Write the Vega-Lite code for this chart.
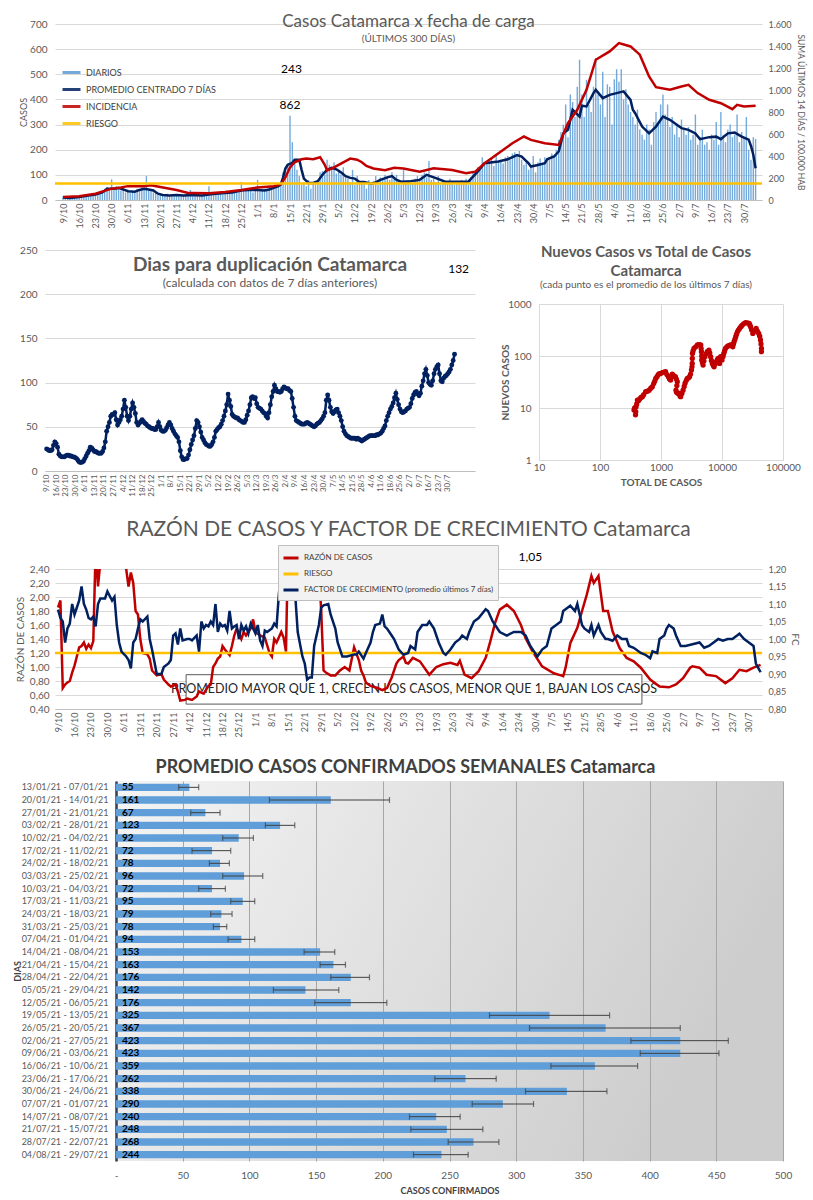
{
"$schema":"https://vega.github.io/schema/vega-lite/v6.json",
"background":"white",
"padding":{"left":12,"top":13,"right":6,"bottom":0},
"config":{
 "font":"Lato",
 "view":{"stroke":null},
 "axis":{"labelColor":"#595959","titleColor":"#595959","labelFont":"Lato","titleFont":"Lato","domainColor":"#bfbfbf","tickColor":"#bfbfbf","gridColor":"#d9d9d9","titleFontWeight":"normal"},
 "title":{"color":"#595959","font":"Lato","subtitleColor":"#595959","subtitleFont":"Lato","frame":"group"},
 "legend":{"labelFont":"Lato","labelColor":"#404040","labelLimit":300}
},
"datasets":{
"barras":[{"dia":0,"v":14},{"dia":1,"v":8},{"dia":2,"v":12},{"dia":3,"v":6},{"dia":4,"v":9},{"dia":5,"v":11},{"dia":6,"v":7},{"dia":7,"v":13},{"dia":8,"v":10},{"dia":9,"v":15},
{"dia":10,"v":18},{"dia":11,"v":12},{"dia":12,"v":20},{"dia":13,"v":16},{"dia":14,"v":25},{"dia":15,"v":22},{"dia":16,"v":30},{"dia":17,"v":38},{"dia":18,"v":45},{"dia":19,"v":52},
{"dia":20,"v":48},{"dia":21,"v":82},{"dia":22,"v":40},{"dia":23,"v":55},{"dia":24,"v":50},{"dia":25,"v":38},{"dia":26,"v":45},{"dia":27,"v":30},{"dia":28,"v":42},{"dia":29,"v":28},
{"dia":30,"v":35},{"dia":31,"v":30},{"dia":32,"v":45},{"dia":33,"v":38},{"dia":34,"v":50},{"dia":35,"v":42},{"dia":36,"v":96},{"dia":37,"v":40},{"dia":38,"v":35},{"dia":39,"v":30},
{"dia":40,"v":28},{"dia":41,"v":20},{"dia":42,"v":18},{"dia":43,"v":22},{"dia":44,"v":15},{"dia":45,"v":25},{"dia":46,"v":18},{"dia":47,"v":20},{"dia":48,"v":24},{"dia":49,"v":16},
{"dia":50,"v":22},{"dia":51,"v":15},{"dia":52,"v":20},{"dia":53,"v":18},{"dia":54,"v":25},{"dia":55,"v":40},{"dia":56,"v":15},{"dia":57,"v":22},{"dia":58,"v":18},{"dia":59,"v":20},
{"dia":60,"v":16},{"dia":61,"v":24},{"dia":62,"v":20},{"dia":63,"v":55},{"dia":64,"v":22},{"dia":65,"v":28},{"dia":66,"v":20},{"dia":67,"v":30},{"dia":68,"v":25},{"dia":69,"v":22},
{"dia":70,"v":30},{"dia":71,"v":35},{"dia":72,"v":25},{"dia":73,"v":32},{"dia":74,"v":38},{"dia":75,"v":28},{"dia":76,"v":40},{"dia":77,"v":72},{"dia":78,"v":35},{"dia":79,"v":42},
{"dia":80,"v":38},{"dia":81,"v":45},{"dia":82,"v":30},{"dia":83,"v":48},{"dia":84,"v":80},{"dia":85,"v":35},{"dia":86,"v":40},{"dia":87,"v":45},{"dia":88,"v":38},{"dia":89,"v":50},
{"dia":90,"v":52},{"dia":91,"v":58},{"dia":92,"v":50},{"dia":93,"v":65},{"dia":94,"v":70},{"dia":95,"v":110},{"dia":96,"v":125},{"dia":97,"v":140},{"dia":98,"v":335},{"dia":99,"v":230},
{"dia":100,"v":150},{"dia":101,"v":120},{"dia":102,"v":95},{"dia":103,"v":60},{"dia":104,"v":70},{"dia":105,"v":55},{"dia":106,"v":80},{"dia":107,"v":45},{"dia":108,"v":72},{"dia":109,"v":65},
{"dia":110,"v":80},{"dia":111,"v":110},{"dia":112,"v":115},{"dia":113,"v":100},{"dia":114,"v":160},{"dia":115,"v":140},{"dia":116,"v":125},{"dia":117,"v":150},{"dia":118,"v":105},{"dia":119,"v":120},
{"dia":120,"v":100},{"dia":121,"v":130},{"dia":122,"v":90},{"dia":123,"v":85},{"dia":124,"v":70},{"dia":125,"v":120},{"dia":126,"v":60},{"dia":127,"v":95},{"dia":128,"v":65},{"dia":129,"v":75},
{"dia":130,"v":70},{"dia":131,"v":45},{"dia":132,"v":80},{"dia":133,"v":60},{"dia":134,"v":75},{"dia":135,"v":95},{"dia":136,"v":60},{"dia":137,"v":90},{"dia":138,"v":85},{"dia":139,"v":100},
{"dia":140,"v":95},{"dia":141,"v":80},{"dia":142,"v":110},{"dia":143,"v":85},{"dia":144,"v":100},{"dia":145,"v":70},{"dia":146,"v":60},{"dia":147,"v":120},{"dia":148,"v":75},{"dia":149,"v":80},
{"dia":150,"v":70},{"dia":151,"v":65},{"dia":152,"v":85},{"dia":153,"v":95},{"dia":154,"v":75},{"dia":155,"v":100},{"dia":156,"v":110},{"dia":157,"v":90},{"dia":158,"v":155},{"dia":159,"v":80},
{"dia":160,"v":85},{"dia":161,"v":70},{"dia":162,"v":95},{"dia":163,"v":60},{"dia":164,"v":80},{"dia":165,"v":65},{"dia":166,"v":75},{"dia":167,"v":85},{"dia":168,"v":70},{"dia":169,"v":60},
{"dia":170,"v":75},{"dia":171,"v":65},{"dia":172,"v":80},{"dia":173,"v":70},{"dia":174,"v":85},{"dia":175,"v":60},{"dia":176,"v":90},{"dia":177,"v":110},{"dia":178,"v":100},{"dia":179,"v":130},
{"dia":180,"v":120},{"dia":181,"v":170},{"dia":182,"v":140},{"dia":183,"v":155},{"dia":184,"v":150},{"dia":185,"v":165},{"dia":186,"v":135},{"dia":187,"v":180},{"dia":188,"v":150},{"dia":189,"v":160},
{"dia":190,"v":145},{"dia":191,"v":170},{"dia":192,"v":175},{"dia":193,"v":160},{"dia":194,"v":185},{"dia":195,"v":190},{"dia":196,"v":175},{"dia":197,"v":195},{"dia":198,"v":160},{"dia":199,"v":140},
{"dia":200,"v":150},{"dia":201,"v":120},{"dia":202,"v":130},{"dia":203,"v":175},{"dia":204,"v":110},{"dia":205,"v":150},{"dia":206,"v":165},{"dia":207,"v":140},{"dia":208,"v":170},{"dia":209,"v":155},
{"dia":210,"v":160},{"dia":211,"v":185},{"dia":212,"v":175},{"dia":213,"v":200},{"dia":214,"v":240},{"dia":215,"v":270},{"dia":216,"v":300},{"dia":217,"v":380},{"dia":218,"v":250},{"dia":219,"v":420},
{"dia":220,"v":390},{"dia":221,"v":330},{"dia":222,"v":450},{"dia":223,"v":558},{"dia":224,"v":420},{"dia":225,"v":330},{"dia":226,"v":478},{"dia":227,"v":380},{"dia":228,"v":350},{"dia":229,"v":450},
{"dia":230,"v":565},{"dia":231,"v":420},{"dia":232,"v":380},{"dia":233,"v":510},{"dia":234,"v":330},{"dia":235,"v":460},{"dia":236,"v":450},{"dia":237,"v":300},{"dia":238,"v":480},{"dia":239,"v":520},
{"dia":240,"v":470},{"dia":241,"v":520},{"dia":242,"v":400},{"dia":243,"v":440},{"dia":244,"v":380},{"dia":245,"v":350},{"dia":246,"v":330},{"dia":247,"v":300},{"dia":248,"v":360},{"dia":249,"v":280},
{"dia":250,"v":260},{"dia":251,"v":240},{"dia":252,"v":300},{"dia":253,"v":280},{"dia":254,"v":220},{"dia":255,"v":310},{"dia":256,"v":350},{"dia":257,"v":300},{"dia":258,"v":380},{"dia":259,"v":420},
{"dia":260,"v":340},{"dia":261,"v":380},{"dia":262,"v":290},{"dia":263,"v":330},{"dia":264,"v":260},{"dia":265,"v":300},{"dia":266,"v":250},{"dia":267,"v":320},{"dia":268,"v":280},{"dia":269,"v":260},
{"dia":270,"v":290},{"dia":271,"v":240},{"dia":272,"v":260},{"dia":273,"v":340},{"dia":274,"v":220},{"dia":275,"v":250},{"dia":276,"v":280},{"dia":277,"v":220},{"dia":278,"v":230},{"dia":279,"v":200},
{"dia":280,"v":260},{"dia":281,"v":240},{"dia":282,"v":310},{"dia":283,"v":220},{"dia":284,"v":350},{"dia":285,"v":260},{"dia":286,"v":230},{"dia":287,"v":280},{"dia":288,"v":300},{"dia":289,"v":250},
{"dia":290,"v":260},{"dia":291,"v":340},{"dia":292,"v":230},{"dia":293,"v":270},{"dia":294,"v":250},{"dia":295,"v":330},{"dia":296,"v":200},{"dia":297,"v":160},{"dia":298,"v":250},{"dia":299,"v":243}],
"prom":[{"dia":0,"v":10},{"dia":3,"v":8},{"dia":7,"v":12},{"dia":11,"v":18},{"dia":14,"v":22},{"dia":17,"v":30},{"dia":19,"v":45},{"dia":22,"v":45},{"dia":24,"v":48},{"dia":26,"v":42},{"dia":28,"v":35},{"dia":31,"v":33},{"dia":33,"v":40},{"dia":35,"v":45},{"dia":37,"v":42},{"dia":39,"v":38},{"dia":41,"v":25},{"dia":43,"v":20},{"dia":46,"v":18},{"dia":49,"v":20},{"dia":52,"v":18},{"dia":56,"v":20},{"dia":60,"v":18},{"dia":63,"v":22},{"dia":66,"v":25},{"dia":70,"v":28},{"dia":73,"v":30},{"dia":77,"v":38},{"dia":80,"v":40},{"dia":84,"v":40},{"dia":87,"v":38},{"dia":89,"v":42},{"dia":91,"v":48},{"dia":93,"v":55},{"dia":94,"v":62},{"dia":95,"v":90},{"dia":96,"v":125},{"dia":97,"v":140},{"dia":99,"v":148},{"dia":100,"v":160},{"dia":102,"v":160},{"dia":103,"v":120},{"dia":104,"v":85},{"dia":106,"v":68},{"dia":108,"v":68},{"dia":110,"v":75},{"dia":112,"v":100},{"dia":114,"v":120},{"dia":116,"v":128},{"dia":118,"v":122},{"dia":120,"v":110},{"dia":122,"v":95},{"dia":124,"v":88},{"dia":126,"v":85},{"dia":128,"v":72},{"dia":130,"v":72},{"dia":133,"v":65},{"dia":135,"v":70},{"dia":137,"v":80},{"dia":140,"v":90},{"dia":142,"v":95},{"dia":144,"v":80},{"dia":146,"v":73},{"dia":150,"v":75},{"dia":154,"v":80},{"dia":157,"v":100},{"dia":161,"v":87},{"dia":165,"v":73},{"dia":168,"v":73},{"dia":175,"v":73},{"dia":179,"v":113},{"dia":182,"v":146},{"dia":188,"v":153},{"dia":192,"v":162},{"dia":196,"v":179},{"dia":198,"v":173},{"dia":201,"v":146},{"dia":202,"v":133},{"dia":205,"v":139},{"dia":208,"v":146},{"dia":209,"v":162},{"dia":212,"v":173},{"dia":214,"v":193},{"dia":216,"v":265},{"dia":218,"v":279},{"dia":220,"v":359},{"dia":223,"v":332},{"dia":224,"v":375},{"dia":226,"v":372},{"dia":229,"v":425},{"dia":230,"v":438},{"dia":233,"v":405},{"dia":236,"v":418},{"dia":239,"v":425},{"dia":242,"v":432},{"dia":245,"v":398},{"dia":246,"v":359},{"dia":247,"v":345},{"dia":250,"v":292},{"dia":253,"v":265},{"dia":256,"v":292},{"dia":259,"v":332},{"dia":262,"v":319},{"dia":265,"v":299},{"dia":267,"v":286},{"dia":270,"v":279},{"dia":273,"v":265},{"dia":275,"v":242},{"dia":279,"v":250},{"dia":282,"v":252},{"dia":284,"v":242},{"dia":287,"v":265},{"dia":290,"v":268},{"dia":293,"v":252},{"dia":296,"v":240},{"dia":297,"v":215},{"dia":298,"v":180},{"dia":299,"v":126}],
"incid":[{"dia":0,"v":27},{"dia":7,"v":34},{"dia":14,"v":57},{"dia":21,"v":103},{"dia":25,"v":114},{"dia":28,"v":126},{"dia":35,"v":126},{"dia":38,"v":133},{"dia":42,"v":119},{"dia":49,"v":91},{"dia":54,"v":64},{"dia":56,"v":64},{"dia":63,"v":62},{"dia":70,"v":73},{"dia":77,"v":91},{"dia":84,"v":114},{"dia":91,"v":126},{"dia":94,"v":142},{"dia":96,"v":206},{"dia":98,"v":297},{"dia":100,"v":343},{"dia":103,"v":370},{"dia":105,"v":377},{"dia":108,"v":370},{"dia":111,"v":389},{"dia":113,"v":320},{"dia":114,"v":270},{"dia":116,"v":286},{"dia":119,"v":320},{"dia":122,"v":354},{"dia":124,"v":377},{"dia":127,"v":366},{"dia":129,"v":343},{"dia":131,"v":309},{"dia":134,"v":286},{"dia":139,"v":270},{"dia":143,"v":293},{"dia":147,"v":286},{"dia":154,"v":258},{"dia":160,"v":289},{"dia":168,"v":273},{"dia":174,"v":243},{"dia":178,"v":258},{"dia":182,"v":334},{"dia":188,"v":425},{"dia":194,"v":516},{"dia":199,"v":577},{"dia":202,"v":546},{"dia":208,"v":516},{"dia":214,"v":501},{"dia":218,"v":698},{"dia":222,"v":820},{"dia":226,"v":1002},{"dia":230,"v":1275},{"dia":236,"v":1351},{"dia":240,"v":1427},{"dia":245,"v":1396},{"dia":249,"v":1321},{"dia":253,"v":1123},{"dia":256,"v":1026},{"dia":262,"v":1002},{"dia":267,"v":1032},{"dia":270,"v":1047},{"dia":274,"v":972},{"dia":279,"v":911},{"dia":284,"v":880},{"dia":289,"v":826},{"dia":291,"v":865},{"dia":294,"v":850},{"dia":299,"v":856}],
"dup":[{"dia":0,"v":25},{"dia":1,"v":24},{"dia":2,"v":23},{"dia":3,"v":23},{"dia":4,"v":24},{"dia":5,"v":29},{"dia":6,"v":33},{"dia":7,"v":31},{"dia":8,"v":27},{"dia":9,"v":19},{"dia":10,"v":17},{"dia":11,"v":16},{"dia":12,"v":16},{"dia":13,"v":16},{"dia":14,"v":17},{"dia":15,"v":18},{"dia":16,"v":18},{"dia":17,"v":17},{"dia":18,"v":17},{"dia":19,"v":16},{"dia":20,"v":16},{"dia":21,"v":15},{"dia":22,"v":14},{"dia":23,"v":12},{"dia":24,"v":10},{"dia":25,"v":9.5},{"dia":26,"v":10},{"dia":27,"v":11},{"dia":28,"v":14},{"dia":29,"v":17},{"dia":30,"v":20},{"dia":31,"v":23},{"dia":32,"v":27},{"dia":33,"v":26},{"dia":34,"v":24},{"dia":35,"v":22},{"dia":36,"v":22},{"dia":37,"v":21},{"dia":38,"v":20},{"dia":39,"v":20},{"dia":40,"v":20},{"dia":41,"v":22},{"dia":42,"v":26},{"dia":43,"v":33},{"dia":44,"v":45},{"dia":45,"v":50},{"dia":46,"v":55},{"dia":47,"v":62},{"dia":48,"v":64},{"dia":49,"v":64},{"dia":50,"v":66},{"dia":51,"v":58},{"dia":52,"v":52},{"dia":53,"v":55},{"dia":54,"v":58},{"dia":55,"v":62},{"dia":56,"v":70},{"dia":57,"v":80},{"dia":58,"v":72},{"dia":59,"v":62},{"dia":60,"v":57},{"dia":61,"v":62},{"dia":62,"v":70},{"dia":63,"v":77},{"dia":64,"v":72},{"dia":65,"v":65},{"dia":66,"v":55},{"dia":67,"v":52},{"dia":68,"v":54},{"dia":69,"v":56},{"dia":70,"v":58},{"dia":71,"v":56},{"dia":72,"v":54},{"dia":73,"v":53},{"dia":74,"v":51},{"dia":75,"v":50},{"dia":76,"v":49},{"dia":77,"v":48},{"dia":78,"v":48},{"dia":79,"v":47},{"dia":80,"v":47},{"dia":81,"v":50},{"dia":82,"v":55},{"dia":83,"v":50},{"dia":84,"v":46},{"dia":85,"v":45},{"dia":86,"v":45},{"dia":87,"v":46},{"dia":88,"v":49},{"dia":89,"v":52},{"dia":90,"v":55},{"dia":91,"v":52},{"dia":92,"v":48},{"dia":93,"v":45},{"dia":94,"v":42},{"dia":95,"v":40},{"dia":96,"v":38},{"dia":97,"v":33},{"dia":98,"v":23},{"dia":99,"v":16},{"dia":100,"v":13},{"dia":101,"v":13},{"dia":102,"v":14},{"dia":103,"v":14},{"dia":104,"v":18},{"dia":105,"v":24},{"dia":106,"v":30},{"dia":107,"v":35},{"dia":108,"v":40},{"dia":109,"v":48},{"dia":110,"v":57},{"dia":111,"v":55},{"dia":112,"v":50},{"dia":113,"v":44},{"dia":114,"v":38},{"dia":115,"v":35},{"dia":116,"v":32},{"dia":117,"v":30},{"dia":118,"v":29},{"dia":119,"v":28},{"dia":120,"v":28},{"dia":121,"v":30},{"dia":122,"v":33},{"dia":123,"v":38},{"dia":124,"v":45},{"dia":125,"v":47},{"dia":126,"v":49},{"dia":127,"v":50},{"dia":128,"v":53},{"dia":129,"v":57},{"dia":130,"v":62},{"dia":131,"v":68},{"dia":132,"v":75},{"dia":133,"v":87},{"dia":134,"v":80},{"dia":135,"v":73},{"dia":136,"v":64},{"dia":137,"v":62},{"dia":138,"v":61},{"dia":139,"v":60},{"dia":140,"v":60},{"dia":141,"v":58},{"dia":142,"v":57},{"dia":143,"v":56},{"dia":144,"v":55},{"dia":145,"v":55},{"dia":146,"v":58},{"dia":147,"v":63},{"dia":148,"v":68},{"dia":149,"v":75},{"dia":150,"v":83},{"dia":151,"v":84},{"dia":152,"v":82},{"dia":153,"v":83},{"dia":154,"v":76},{"dia":155,"v":72},{"dia":156,"v":71},{"dia":157,"v":70},{"dia":158,"v":68},{"dia":159,"v":66},{"dia":160,"v":65},{"dia":161,"v":62},{"dia":162,"v":60},{"dia":163,"v":66},{"dia":164,"v":75},{"dia":165,"v":84},{"dia":166,"v":90},{"dia":167,"v":97},{"dia":168,"v":93},{"dia":169,"v":90},{"dia":170,"v":90},{"dia":171,"v":89},{"dia":172,"v":90},{"dia":173,"v":93},{"dia":174,"v":95},{"dia":175,"v":94},{"dia":176,"v":93},{"dia":177,"v":93},{"dia":178,"v":91},{"dia":179,"v":90},{"dia":180,"v":82},{"dia":181,"v":72},{"dia":182,"v":62},{"dia":183,"v":57},{"dia":184,"v":56},{"dia":185,"v":55},{"dia":186,"v":54},{"dia":187,"v":53},{"dia":188,"v":53},{"dia":189,"v":53},{"dia":190,"v":54},{"dia":191,"v":55},{"dia":192,"v":54},{"dia":193,"v":53},{"dia":194,"v":52},{"dia":195,"v":51},{"dia":196,"v":50},{"dia":197,"v":51},{"dia":198,"v":53},{"dia":199,"v":54},{"dia":200,"v":55},{"dia":201,"v":57},{"dia":202,"v":59},{"dia":203,"v":62},{"dia":204,"v":66},{"dia":205,"v":80},{"dia":206,"v":86},{"dia":207,"v":80},{"dia":208,"v":72},{"dia":209,"v":67},{"dia":210,"v":65},{"dia":211,"v":67},{"dia":212,"v":69},{"dia":213,"v":70},{"dia":214,"v":66},{"dia":215,"v":62},{"dia":216,"v":57},{"dia":217,"v":50},{"dia":218,"v":45},{"dia":219,"v":42},{"dia":220,"v":40},{"dia":221,"v":39},{"dia":222,"v":38},{"dia":223,"v":37},{"dia":224,"v":37},{"dia":225,"v":37},{"dia":226,"v":37},{"dia":227,"v":36},{"dia":228,"v":37},{"dia":229,"v":36},{"dia":230,"v":35},{"dia":231,"v":34},{"dia":232,"v":35},{"dia":233,"v":36},{"dia":234,"v":37},{"dia":235,"v":38},{"dia":236,"v":39},{"dia":237,"v":40},{"dia":238,"v":40},{"dia":239,"v":40},{"dia":240,"v":40},{"dia":241,"v":40},{"dia":242,"v":41},{"dia":243,"v":41},{"dia":244,"v":42},{"dia":245,"v":43},{"dia":246,"v":45},{"dia":247,"v":48},{"dia":248,"v":51},{"dia":249,"v":57},{"dia":250,"v":62},{"dia":251,"v":66},{"dia":252,"v":70},{"dia":253,"v":73},{"dia":254,"v":77},{"dia":255,"v":83},{"dia":256,"v":88},{"dia":257,"v":81},{"dia":258,"v":75},{"dia":259,"v":70},{"dia":260,"v":67},{"dia":261,"v":66},{"dia":262,"v":67},{"dia":263,"v":68},{"dia":264,"v":70},{"dia":265,"v":71},{"dia":266,"v":72},{"dia":267,"v":76},{"dia":268,"v":82},{"dia":269,"v":86},{"dia":270,"v":89},{"dia":271,"v":90},{"dia":272,"v":87},{"dia":273,"v":85},{"dia":274,"v":88},{"dia":275,"v":96},{"dia":276,"v":102},{"dia":277,"v":110},{"dia":278,"v":115},{"dia":279,"v":108},{"dia":280,"v":100},{"dia":281,"v":98},{"dia":282,"v":97},{"dia":283,"v":102},{"dia":284,"v":110},{"dia":285,"v":115},{"dia":286,"v":118},{"dia":287,"v":120},{"dia":288,"v":110},{"dia":289,"v":102},{"dia":290,"v":101},{"dia":291,"v":105},{"dia":292,"v":107},{"dia":293,"v":108},{"dia":294,"v":110},{"dia":295,"v":112},{"dia":296,"v":115},{"dia":297,"v":120},{"dia":298,"v":125},{"dia":299,"v":132}],
"nc":[{"total":361,"nuevos":9.2},{"total":370,"nuevos":10},{"total":382,"nuevos":7.4},{"total":385,"nuevos":8.5},{"total":390,"nuevos":10.6},{"total":400,"nuevos":12},{"total":410,"nuevos":14.2},{"total":430,"nuevos":14},{"total":450,"nuevos":15},{"total":470,"nuevos":16},{"total":495,"nuevos":16.5},{"total":520,"nuevos":18},{"total":560,"nuevos":20.6},{"total":600,"nuevos":21},{"total":640,"nuevos":22},{"total":680,"nuevos":24},{"total":720,"nuevos":25.7},{"total":760,"nuevos":29.7},{"total":790,"nuevos":33},{"total":820,"nuevos":37},{"total":860,"nuevos":40},{"total":900,"nuevos":44},{"total":940,"nuevos":46},{"total":985,"nuevos":46},{"total":1050,"nuevos":48},{"total":1120,"nuevos":49},{"total":1190,"nuevos":50},{"total":1250,"nuevos":44},{"total":1320,"nuevos":40},{"total":1380,"nuevos":36},{"total":1440,"nuevos":34.5},{"total":1490,"nuevos":40},{"total":1530,"nuevos":45},{"total":1580,"nuevos":43},{"total":1640,"nuevos":41},{"total":1720,"nuevos":40},{"total":1790,"nuevos":36},{"total":1850,"nuevos":32},{"total":1820,"nuevos":27},{"total":1760,"nuevos":22},{"total":1800,"nuevos":20},{"total":1900,"nuevos":19},{"total":2000,"nuevos":19},{"total":2050,"nuevos":17},{"total":2100,"nuevos":16.5},{"total":2200,"nuevos":19},{"total":2300,"nuevos":22},{"total":2400,"nuevos":26},{"total":2480,"nuevos":30},{"total":2600,"nuevos":34},{"total":2700,"nuevos":37},{"total":2820,"nuevos":38},{"total":2940,"nuevos":40},{"total":3050,"nuevos":45},{"total":3160,"nuevos":54},{"total":3220,"nuevos":62},{"total":3250,"nuevos":72},{"total":3260,"nuevos":90},{"total":3280,"nuevos":112},{"total":3350,"nuevos":125},{"total":3470,"nuevos":140},{"total":3700,"nuevos":150},{"total":3950,"nuevos":163},{"total":4200,"nuevos":165},{"total":4480,"nuevos":163},{"total":4550,"nuevos":140},{"total":4600,"nuevos":121},{"total":4650,"nuevos":100},{"total":4650,"nuevos":84},{"total":4780,"nuevos":75},{"total":4900,"nuevos":67},{"total":5050,"nuevos":80},{"total":5240,"nuevos":97},{"total":5500,"nuevos":110},{"total":5730,"nuevos":121},{"total":6100,"nuevos":130},{"total":6300,"nuevos":115},{"total":6510,"nuevos":97},{"total":6700,"nuevos":82},{"total":6950,"nuevos":72},{"total":7200,"nuevos":66},{"total":7420,"nuevos":62},{"total":7700,"nuevos":70},{"total":8060,"nuevos":78},{"total":8400,"nuevos":85},{"total":8670,"nuevos":90},{"total":8900,"nuevos":80},{"total":9120,"nuevos":72},{"total":9300,"nuevos":85},{"total":9480,"nuevos":97},{"total":9700,"nuevos":90},{"total":10000,"nuevos":84},{"total":10400,"nuevos":98},{"total":10700,"nuevos":112},{"total":11000,"nuevos":125},{"total":11400,"nuevos":140},{"total":12000,"nuevos":150},{"total":12600,"nuevos":156},{"total":13200,"nuevos":160},{"total":13800,"nuevos":163},{"total":14400,"nuevos":158},{"total":15000,"nuevos":150},{"total":15400,"nuevos":170},{"total":15800,"nuevos":188},{"total":16300,"nuevos":210},{"total":16800,"nuevos":235},{"total":17300,"nuevos":262},{"total":17900,"nuevos":292},{"total":18600,"nuevos":315},{"total":19400,"nuevos":338},{"total":20400,"nuevos":365},{"total":21400,"nuevos":392},{"total":22800,"nuevos":420},{"total":24300,"nuevos":437},{"total":26000,"nuevos":432},{"total":27900,"nuevos":425},{"total":28600,"nuevos":395},{"total":29400,"nuevos":366},{"total":30500,"nuevos":320},{"total":32000,"nuevos":272},{"total":34000,"nuevos":300},{"total":36300,"nuevos":338},{"total":38000,"nuevos":300},{"total":40000,"nuevos":272},{"total":41500,"nuevos":240},{"total":42800,"nuevos":203},{"total":43600,"nuevos":170},{"total":44400,"nuevos":140},{"total":44400,"nuevos":121}],
"rz":[{"dia":0,"v":1.85},{"dia":1,"v":1.95},{"dia":2,"v":0.7},{"dia":3,"v":0.75},{"dia":4,"v":0.78},{"dia":5,"v":0.8},{"dia":6,"v":0.92},{"dia":7,"v":1.02},{"dia":8,"v":1.15},{"dia":9,"v":1.28},{"dia":10,"v":1.3},{"dia":11,"v":1.35},{"dia":12,"v":1.26},{"dia":13,"v":1.32},{"dia":14,"v":1.27},{"dia":15,"v":1.37},{"dia":16,"v":2.7},{"dia":17,"v":2.15},{"dia":18,"v":2.5},{"dia":20,"v":3.0},{"dia":22,"v":3.3},{"dia":24,"v":3.4},{"dia":26,"v":3.2},{"dia":28,"v":2.8},{"dia":29,"v":2.4},{"dia":30,"v":2.15},{"dia":31,"v":2.35},{"dia":32,"v":2.2},{"dia":33,"v":1.8},{"dia":34,"v":1.75},{"dia":35,"v":1.4},{"dia":36,"v":1.2},{"dia":38,"v":1.18},{"dia":39,"v":1.12},{"dia":40,"v":0.95},{"dia":42,"v":0.88},{"dia":44,"v":0.9},{"dia":45,"v":0.82},{"dia":47,"v":0.75},{"dia":48,"v":0.72},{"dia":50,"v":0.75},{"dia":51,"v":0.65},{"dia":52,"v":0.52},{"dia":54,"v":0.53},{"dia":55,"v":0.55},{"dia":57,"v":0.53},{"dia":59,"v":0.58},{"dia":60,"v":0.65},{"dia":62,"v":0.62},{"dia":64,"v":0.73},{"dia":65,"v":0.75},{"dia":66,"v":1.0},{"dia":67,"v":1.05},{"dia":68,"v":1.12},{"dia":69,"v":1.15},{"dia":70,"v":1.3},{"dia":71,"v":1.25},{"dia":73,"v":1.17},{"dia":74,"v":1.3},{"dia":75,"v":1.45},{"dia":76,"v":1.55},{"dia":78,"v":1.4},{"dia":79,"v":1.5},{"dia":80,"v":1.45},{"dia":82,"v":1.55},{"dia":83,"v":1.68},{"dia":84,"v":1.5},{"dia":86,"v":1.45},{"dia":88,"v":1.42},{"dia":90,"v":1.2},{"dia":91,"v":1.15},{"dia":92,"v":1.4},{"dia":93,"v":1.35},{"dia":95,"v":1.5},{"dia":96,"v":1.42},{"dia":97,"v":1.22},{"dia":98,"v":2.9},{"dia":100,"v":4.0},{"dia":103,"v":4.5},{"dia":106,"v":4.0},{"dia":109,"v":3.2},{"dia":111,"v":2.4},{"dia":112,"v":1.8},{"dia":113,"v":0.95},{"dia":114,"v":0.92},{"dia":116,"v":0.88},{"dia":118,"v":0.88},{"dia":120,"v":0.95},{"dia":122,"v":1.0},{"dia":124,"v":0.95},{"dia":126,"v":1.28},{"dia":128,"v":1.1},{"dia":129,"v":0.95},{"dia":130,"v":0.88},{"dia":131,"v":0.78},{"dia":133,"v":0.73},{"dia":136,"v":0.7},{"dia":138,"v":0.67},{"dia":140,"v":0.7},{"dia":142,"v":0.85},{"dia":144,"v":1.05},{"dia":145,"v":1.1},{"dia":147,"v":1.15},{"dia":148,"v":1.06},{"dia":149,"v":1.05},{"dia":151,"v":1.13},{"dia":154,"v":1.08},{"dia":158,"v":0.89},{"dia":161,"v":1.0},{"dia":164,"v":1.04},{"dia":167,"v":1.06},{"dia":170,"v":1.03},{"dia":171,"v":1.09},{"dia":173,"v":0.89},{"dia":176,"v":0.84},{"dia":179,"v":0.94},{"dia":182,"v":1.13},{"dia":184,"v":1.37},{"dia":186,"v":1.63},{"dia":188,"v":1.82},{"dia":191,"v":1.89},{"dia":194,"v":1.8},{"dia":197,"v":1.6},{"dia":199,"v":1.41},{"dia":202,"v":1.22},{"dia":206,"v":1.01},{"dia":211,"v":0.91},{"dia":214,"v":0.88},{"dia":215,"v":0.87},{"dia":216,"v":0.99},{"dia":218,"v":1.34},{"dia":221,"v":1.56},{"dia":223,"v":1.8},{"dia":225,"v":2.03},{"dia":227,"v":2.3},{"dia":228,"v":2.2},{"dia":230,"v":2.3},{"dia":232,"v":1.8},{"dia":234,"v":1.8},{"dia":236,"v":1.51},{"dia":239,"v":1.27},{"dia":242,"v":1.13},{"dia":245,"v":1.08},{"dia":248,"v":0.99},{"dia":252,"v":0.82},{"dia":256,"v":0.72},{"dia":260,"v":0.71},{"dia":263,"v":0.75},{"dia":266,"v":0.84},{"dia":269,"v":0.99},{"dia":270,"v":1.01},{"dia":273,"v":0.99},{"dia":276,"v":0.89},{"dia":280,"v":0.87},{"dia":284,"v":0.77},{"dia":287,"v":0.84},{"dia":290,"v":0.96},{"dia":293,"v":0.94},{"dia":296,"v":0.99},{"dia":299,"v":1.03}],
"fc":[{"dia":0,"v":1.084},{"dia":1,"v":1.06},{"dia":2,"v":1.05},{"dia":3,"v":0.99},{"dia":4,"v":1.03},{"dia":5,"v":1.044},{"dia":6,"v":1.1},{"dia":7,"v":1.07},{"dia":8,"v":1.09},{"dia":9,"v":1.11},{"dia":10,"v":1.15},{"dia":11,"v":1.1},{"dia":12,"v":1.084},{"dia":13,"v":1.06},{"dia":14,"v":1.056},{"dia":15,"v":1.064},{"dia":16,"v":1.036},{"dia":17,"v":1.1},{"dia":18,"v":1.116},{"dia":20,"v":1.116},{"dia":21,"v":1.136},{"dia":23,"v":1.11},{"dia":24,"v":1.12},{"dia":25,"v":1.04},{"dia":26,"v":0.99},{"dia":27,"v":0.964},{"dia":29,"v":0.95},{"dia":30,"v":0.94},{"dia":31,"v":0.916},{"dia":32,"v":0.99},{"dia":33,"v":1.0},{"dia":34,"v":1.03},{"dia":35,"v":1.056},{"dia":36,"v":1.05},{"dia":38,"v":1.064},{"dia":39,"v":1.0},{"dia":40,"v":0.97},{"dia":42,"v":0.9},{"dia":43,"v":0.9},{"dia":44,"v":0.9},{"dia":45,"v":0.92},{"dia":47,"v":0.93},{"dia":48,"v":0.94},{"dia":49,"v":1.01},{"dia":50,"v":1.016},{"dia":51,"v":0.984},{"dia":52,"v":1.03},{"dia":53,"v":0.996},{"dia":55,"v":1.0},{"dia":56,"v":1.0},{"dia":57,"v":0.996},{"dia":59,"v":1.01},{"dia":60,"v":0.964},{"dia":61,"v":1.05},{"dia":62,"v":1.03},{"dia":63,"v":1.04},{"dia":64,"v":1.036},{"dia":65,"v":1.05},{"dia":66,"v":1.04},{"dia":67,"v":1.1},{"dia":68,"v":1.02},{"dia":69,"v":1.044},{"dia":70,"v":1.036},{"dia":71,"v":1.04},{"dia":72,"v":1.024},{"dia":73,"v":1.08},{"dia":74,"v":1.03},{"dia":75,"v":1.036},{"dia":76,"v":1.04},{"dia":77,"v":1.0},{"dia":78,"v":1.04},{"dia":79,"v":1.024},{"dia":80,"v":1.036},{"dia":81,"v":1.016},{"dia":82,"v":1.044},{"dia":83,"v":1.03},{"dia":84,"v":1.016},{"dia":85,"v":1.04},{"dia":86,"v":0.996},{"dia":87,"v":0.98},{"dia":88,"v":1.024},{"dia":89,"v":1.02},{"dia":91,"v":1.03},{"dia":92,"v":1.044},{"dia":93,"v":1.036},{"dia":94,"v":1.13},{"dia":95,"v":1.2},{"dia":97,"v":1.25},{"dia":99,"v":1.24},{"dia":101,"v":1.12},{"dia":102,"v":1.02},{"dia":104,"v":0.95},{"dia":105,"v":0.93},{"dia":106,"v":0.884},{"dia":107,"v":0.89},{"dia":108,"v":0.89},{"dia":109,"v":0.98},{"dia":111,"v":1.04},{"dia":112,"v":1.09},{"dia":113,"v":1.096},{"dia":115,"v":1.1},{"dia":116,"v":1.07},{"dia":118,"v":1.03},{"dia":119,"v":0.99},{"dia":121,"v":0.95},{"dia":123,"v":0.95},{"dia":126,"v":0.956},{"dia":127,"v":0.956},{"dia":128,"v":0.964},{"dia":130,"v":0.944},{"dia":131,"v":0.96},{"dia":133,"v":0.99},{"dia":134,"v":1.02},{"dia":135,"v":1.04},{"dia":137,"v":1.044},{"dia":138,"v":1.07},{"dia":139,"v":1.036},{"dia":140,"v":1.03},{"dia":142,"v":1.01},{"dia":143,"v":1.0},{"dia":145,"v":0.97},{"dia":147,"v":0.955},{"dia":149,"v":0.96},{"dia":150,"v":0.98},{"dia":152,"v":0.97},{"dia":153,"v":1.02},{"dia":155,"v":1.04},{"dia":157,"v":1.04},{"dia":158,"v":1.05},{"dia":160,"v":1.03},{"dia":162,"v":0.99},{"dia":164,"v":0.96},{"dia":165,"v":0.955},{"dia":167,"v":0.97},{"dia":169,"v":0.99},{"dia":171,"v":1.0},{"dia":172,"v":1.01},{"dia":174,"v":1.0},{"dia":175,"v":1.02},{"dia":177,"v":1.05},{"dia":179,"v":1.06},{"dia":182,"v":1.085},{"dia":183,"v":1.08},{"dia":185,"v":1.05},{"dia":188,"v":1.02},{"dia":191,"v":1.01},{"dia":194,"v":1.02},{"dia":197,"v":1.02},{"dia":199,"v":1.01},{"dia":201,"v":0.98},{"dia":203,"v":0.96},{"dia":204,"v":0.95},{"dia":206,"v":0.97},{"dia":208,"v":0.98},{"dia":210,"v":1.03},{"dia":212,"v":1.04},{"dia":214,"v":1.05},{"dia":215,"v":1.08},{"dia":217,"v":1.09},{"dia":218,"v":1.095},{"dia":220,"v":1.08},{"dia":221,"v":1.1},{"dia":223,"v":1.04},{"dia":224,"v":1.03},{"dia":226,"v":1.02},{"dia":227,"v":1.04},{"dia":228,"v":1.01},{"dia":230,"v":1.04},{"dia":231,"v":1.02},{"dia":233,"v":1.0},{"dia":234,"v":1.0},{"dia":236,"v":0.995},{"dia":238,"v":1.01},{"dia":240,"v":1.0},{"dia":242,"v":1.0},{"dia":243,"v":0.98},{"dia":245,"v":0.975},{"dia":248,"v":0.96},{"dia":250,"v":0.955},{"dia":252,"v":0.945},{"dia":253,"v":0.965},{"dia":255,"v":0.96},{"dia":256,"v":1.0},{"dia":258,"v":1.01},{"dia":259,"v":1.03},{"dia":260,"v":1.04},{"dia":262,"v":1.03},{"dia":263,"v":1.01},{"dia":265,"v":0.98},{"dia":267,"v":0.98},{"dia":270,"v":0.985},{"dia":273,"v":0.99},{"dia":275,"v":0.975},{"dia":277,"v":0.98},{"dia":279,"v":0.99},{"dia":281,"v":1.0},{"dia":283,"v":0.995},{"dia":285,"v":1.0},{"dia":287,"v":1.0},{"dia":289,"v":1.01},{"dia":290,"v":1.015},{"dia":292,"v":1.0},{"dia":294,"v":0.99},{"dia":296,"v":0.98},{"dia":297,"v":0.93},{"dia":299,"v":0.905}],
"sem":[{"sem":"13/01/21 - 07/01/21","v":55,"lo":47,"hi":62},{"sem":"20/01/21 - 14/01/21","v":161,"lo":115,"hi":205},{"sem":"27/01/21 - 21/01/21","v":67,"lo":56,"hi":78},{"sem":"03/02/21 - 28/01/21","v":123,"lo":112,"hi":134},{"sem":"10/02/21 - 04/02/21","v":92,"lo":80,"hi":103},{"sem":"17/02/21 - 11/02/21","v":72,"lo":57,"hi":86},{"sem":"24/02/21 - 18/02/21","v":78,"lo":70,"hi":85},{"sem":"03/03/21 - 25/02/21","v":96,"lo":80,"hi":110},{"sem":"10/03/21 - 04/03/21","v":72,"lo":62,"hi":82},{"sem":"17/03/21 - 11/03/21","v":95,"lo":86,"hi":104},{"sem":"24/03/21 - 18/03/21","v":79,"lo":71,"hi":87},{"sem":"31/03/21 - 25/03/21","v":78,"lo":73,"hi":83},{"sem":"07/04/21 - 01/04/21","v":94,"lo":84,"hi":104},{"sem":"14/04/21 - 08/04/21","v":153,"lo":141,"hi":164},{"sem":"21/04/21 - 15/04/21","v":163,"lo":153,"hi":172},{"sem":"28/04/21 - 22/04/21","v":176,"lo":161,"hi":190},{"sem":"05/05/21 - 29/04/21","v":142,"lo":118,"hi":167},{"sem":"12/05/21 - 06/05/21","v":176,"lo":149,"hi":203},{"sem":"19/05/21 - 13/05/21","v":325,"lo":280,"hi":370},{"sem":"26/05/21 - 20/05/21","v":367,"lo":310,"hi":423},{"sem":"02/06/21 - 27/05/21","v":423,"lo":386,"hi":459},{"sem":"09/06/21 - 03/06/21","v":423,"lo":393,"hi":452},{"sem":"16/06/21 - 10/06/21","v":359,"lo":326,"hi":391},{"sem":"23/06/21 - 17/06/21","v":262,"lo":239,"hi":285},{"sem":"30/06/21 - 24/06/21","v":338,"lo":307,"hi":368},{"sem":"07/07/21 - 01/07/21","v":290,"lo":267,"hi":313},{"sem":"14/07/21 - 08/07/21","v":240,"lo":220,"hi":258},{"sem":"21/07/21 - 15/07/21","v":248,"lo":221,"hi":275},{"sem":"28/07/21 - 22/07/21","v":268,"lo":249,"hi":287},{"sem":"04/08/21 - 29/07/21","v":244,"lo":223,"hi":264}],
"vacio":[]
},
"spacing":16,
"resolve":{"scale":{"color":"independent"},"legend":{"color":"independent"}},
"vconcat":[
 {"spacing":0,"hconcat":[
  {"data":{"name":"vacio"},"mark":"point","encoding":{},"width":1,"height":1},
  {"width":707,"height":176,
  "title":{"text":"Casos  Catamarca  x fecha de carga","subtitle":"(ÚLTIMOS 300 DÍAS)","fontSize":17,"fontWeight":"normal","subtitleFontSize":10,"subtitlePadding":3,"offset":-26,"anchor":"middle"},
  "layer":[
   {"layer":[
     {"data":{"name":"barras"},"mark":{"type":"bar","size":1.4,"opacity":0.85},
      "encoding":{
       "x":{"field":"dia","type":"quantitative","scale":{"domain":[-1.3,299.6],"nice":false,"zero":false},"axis":{"values":[0,7,14,21,28,35,42,49,56,63,70,77,84,91,98,105,112,119,126,133,140,147,154,161,168,175,182,189,196,203,210,217,224,231,238,245,252,259,266,273,280,287,294],"tickCount":100,"labelExpr":"timeFormat(datetime(2020, 9, 9 + datum.value), '%-d/%-m')","labelAngle":-90,"labelFontSize":9,"labelPadding":3,"labelOverlap":false,"labelFlush":false,"grid":false,"ticks":false,"title":null}},
       "y":{"field":"v","type":"quantitative","scale":{"domain":[0,700],"nice":false},"axis":{"values":[0,100,200,300,400,500,600,700],"tickCount":20,"labelOverlap":false,"grid":true,"domain":false,"ticks":false,"labelFontSize":10,"labelPadding":8,"title":"CASOS","titleFontSize":9,"minExtent":42,"maxExtent":42,"titleX":-27}},
       "color":{"datum":"DIARIOS","scale":{"domain":["DIARIOS","PROMEDIO CENTRADO 7 DÍAS","INCIDENCIA","RIESGO"],"range":["#5B9BD5","#002060","#C00000","#FFC000"]},"legend":{"orient":"none","legendX":49,"legendY":38,"title":null,"symbolType":"stroke","symbolStrokeWidth":3,"symbolSize":324,"labelFontSize":9,"rowPadding":0,"padding":0}}
      }},
     {"data":{"name":"prom"},"mark":{"type":"line","strokeWidth":2.5},
      "encoding":{"x":{"field":"dia","type":"quantitative"},"y":{"field":"v","type":"quantitative","axis":{"title":"CASOS"}},"color":{"datum":"PROMEDIO CENTRADO 7 DÍAS"}}},
     {"data":{"values":[{"t":"243"}]},"mark":{"type":"text","fontSize":12,"color":"#000000"},"encoding":{"x":{"datum":98.6},"y":{"datum":520},"text":{"field":"t"}}},
     {"data":{"values":[{"t":"862"}]},"mark":{"type":"text","fontSize":12,"color":"#000000"},"encoding":{"x":{"datum":98},"y":{"datum":378},"text":{"field":"t"}}}
   ]},
   {"layer":[
     {"data":{"name":"incid"},"mark":{"type":"line","strokeWidth":2.5},
      "encoding":{"x":{"field":"dia","type":"quantitative"},
       "y":{"field":"v","type":"quantitative","scale":{"domain":[0,1600],"nice":false},"axis":{"orient":"right","values":[0,200,400,600,800,1000,1200,1400,1600],"tickCount":20,"labelOverlap":false,"labelExpr":"replace(format(datum.value, ','), ',', '.')","grid":false,"domain":false,"ticks":false,"labelFontSize":9,"labelPadding":6,"title":"SUMA  ÚLTIMOS 14 DÍAS / 100.000 HAB","titleFontSize":8.5,"titlePadding":4}},
       "color":{"datum":"INCIDENCIA"}}},
     {"data":{"values":[{"r":150}]},"mark":{"type":"rule","strokeWidth":2.5},
      "encoding":{"y":{"field":"r","type":"quantitative","axis":{"title":"SUMA  ÚLTIMOS 14 DÍAS / 100.000 HAB"}},"color":{"datum":"RIESGO"}}}
   ]}
  ],
  "resolve":{"scale":{"y":"independent"}}
  }
 ]},
 {"spacing":0,"hconcat":[
  {"data":{"name":"vacio"},"mark":"point","encoding":{},"width":1,"height":1},
  {"spacing":25,"hconcat":[
   {"spacing":0,"vconcat":[
    {"data":{"name":"vacio"},"mark":"point","encoding":{},"width":1,"height":1},
    {"width":430,"height":221,
     "title":{"text":"Dias para duplicación Catamarca","subtitle":"(calculada con datos de 7 días anteriores)","fontSize":19,"fontWeight":"bold","subtitleFontSize":12,"subtitlePadding":3,"offset":-44,"anchor":"middle","dx":10},
     "layer":[
      {"data":{"name":"dup"},"mark":{"type":"line","strokeWidth":2.5,"color":"#002060"},
       "encoding":{
        "x":{"field":"dia","type":"quantitative","scale":{"domain":[-1.2,314],"nice":false,"zero":false},"axis":{"values":[0,7,14,21,28,35,42,49,56,63,70,77,84,91,98,105,112,119,126,133,140,147,154,161,168,175,182,189,196,203,210,217,224,231,238,245,252,259,266,273,280,287,294],"tickCount":100,"labelExpr":"timeFormat(datetime(2020, 9, 9 + datum.value), '%-d/%-m')","labelAngle":-90,"labelFontSize":8,"labelPadding":3,"labelOverlap":false,"labelFlush":false,"grid":false,"ticks":false,"title":" ","titleFontSize":6,"titlePadding":0}},
        "y":{"field":"v","type":"quantitative","scale":{"domain":[0,250],"nice":false},"axis":{"values":[0,50,100,150,200,250],"tickCount":20,"labelOverlap":false,"grid":true,"domain":false,"ticks":false,"labelFontSize":10,"labelPadding":8,"title":null,"minExtent":32,"maxExtent":32}}
       }},
      {"data":{"name":"dup"},"mark":{"type":"circle","size":24,"color":"#002060","opacity":1},
       "encoding":{"x":{"field":"dia","type":"quantitative"},"y":{"field":"v","type":"quantitative"}}},
      {"data":{"values":[{"t":"132"}]},"mark":{"type":"text","fontSize":12,"color":"#000000"},"encoding":{"x":{"datum":302},"y":{"datum":228},"text":{"field":"t"}}}
     ]}
   ]},
   {"spacing":0,"vconcat":[
    {"data":{"name":"vacio"},"mark":"point","encoding":{},"width":1,"height":1},
    {"width":244,"height":156,
     "title":{"text":["Nuevos Casos vs Total de Casos","Catamarca"],"subtitle":"(cada punto es el promedio de los últimos 7 días)","fontSize":15,"fontWeight":"bold","lineHeight":19,"subtitleFontSize":10,"subtitlePadding":1,"offset":9,"anchor":"middle","dx":-15},
     "data":{"name":"nc"},
     "mark":{"type":"circle","size":28,"color":"#C00000","opacity":1},
     "encoding":{
      "x":{"field":"total","type":"quantitative","scale":{"type":"log","domain":[10,100000],"nice":false},"axis":{"values":[10,100,1000,10000,100000],"tickCount":20,"labelOverlap":false,"labelExpr":"format(datum.value, 'd')","grid":true,"domain":false,"ticks":false,"title":"TOTAL DE CASOS","titleFontWeight":"bold","titleFontSize":10,"labelFontSize":10,"titlePadding":5,"labelFlush":false}},
      "y":{"field":"nuevos","type":"quantitative","scale":{"type":"log","domain":[1,1000],"nice":false},"axis":{"values":[1,10,100,1000],"tickCount":20,"labelOverlap":false,"labelExpr":"format(datum.value, 'd')","grid":true,"domain":false,"ticks":false,"title":"NUEVOS CASOS","titleFontWeight":"bold","titleFontSize":10,"labelFontSize":10,"minExtent":22,"maxExtent":22,"titlePadding":7,"labelPadding":8}}
     }}
   ]}
  ]}
 ]},
 {"spacing":0,"hconcat":[
  {"data":{"name":"vacio"},"mark":"point","encoding":{},"width":1,"height":1},
  {"width":707,"height":140,
  "title":{"text":"RAZÓN DE CASOS Y FACTOR DE CRECIMIENTO Catamarca","fontSize":21,"fontWeight":"normal","offset":11,"anchor":"middle"},
  "layer":[
   {"layer":[
     {"data":{"values":[{"t":"PROMEDIO MAYOR QUE 1, CRECEN LOS CASOS, MENOR QUE 1, BAJAN LOS CASOS"}]},"mark":{"type":"rect","fill":"#ffffff","stroke":"#595959","strokeWidth":1},
      "encoding":{"x":{"datum":54.5},"x2":{"datum":248.5},"y":{"datum":0.47},"y2":{"datum":0.89}}},
     {"data":{"values":[{"t":"PROMEDIO MAYOR QUE 1, CRECEN LOS CASOS, MENOR QUE 1, BAJAN LOS CASOS"}]},"mark":{"type":"text","fontSize":12.5,"color":"#262626"},
      "encoding":{"x":{"datum":151.5},"y":{"datum":0.68},"text":{"field":"t"}}},
     {"data":{"name":"rz"},"mark":{"type":"line","strokeWidth":2.5,"clip":true},
      "encoding":{
       "x":{"field":"dia","type":"quantitative","scale":{"domain":[-1.3,299.6],"nice":false,"zero":false},"axis":{"values":[0,7,14,21,28,35,42,49,56,63,70,77,84,91,98,105,112,119,126,133,140,147,154,161,168,175,182,189,196,203,210,217,224,231,238,245,252,259,266,273,280,287,294],"tickCount":100,"labelExpr":"timeFormat(datetime(2020, 9, 9 + datum.value), '%-d/%-m')","labelAngle":-90,"labelFontSize":9,"labelPadding":3,"labelOverlap":false,"labelFlush":false,"grid":false,"ticks":false,"title":" ","titleFontSize":6,"titlePadding":0}},
       "y":{"field":"v","type":"quantitative","scale":{"domain":[0.4,2.4],"nice":false,"zero":false},"axis":{"values":[0.4,0.6,0.8,1.0,1.2,1.4,1.6,1.8,2.0,2.2,2.4],"tickCount":30,"labelOverlap":false,"labelExpr":"replace(format(datum.value, '.2f'), '.', ',')","grid":true,"domain":false,"ticks":false,"labelFontSize":10,"labelPadding":6,"title":"RAZÓN  DE CASOS","titleFontSize":10,"minExtent":42,"maxExtent":42,"titleX":-30}},
       "color":{"datum":"RAZÓN DE CASOS","scale":{"domain":["RAZÓN DE CASOS","RIESGO","FACTOR DE CRECIMIENTO (promedio últimos 7 días)"],"range":["#C00000","#FFC000","#002060"]},"legend":{"orient":"none","legendX":266,"legendY":-24,"title":null,"symbolType":"stroke","symbolStrokeWidth":3,"symbolSize":225,"labelFontSize":8,"rowPadding":1,"padding":4,"fillColor":"#f2f2f2","strokeColor":"#bfbfbf","labelLimit":300}}
      }},
     {"data":{"values":[{"r":1.2}]},"mark":{"type":"rule","strokeWidth":2.5},
      "encoding":{"y":{"field":"r","type":"quantitative","axis":{"title":"RAZÓN  DE CASOS"}},"color":{"datum":"RIESGO"}}},
     {"data":{"values":[{"t":"1,05"}]},"mark":{"type":"text","fontSize":12,"color":"#000000"},"encoding":{"x":{"datum":201},"y":{"datum":2.567},"text":{"field":"t"}}}
   ]},
   {"layer":[
     {"data":{"name":"fc"},"mark":{"type":"line","strokeWidth":2.5,"clip":true},
      "encoding":{"x":{"field":"dia","type":"quantitative"},
       "y":{"field":"v","type":"quantitative","scale":{"domain":[0.8,1.2],"nice":false,"zero":false},"axis":{"orient":"right","values":[0.8,0.85,0.9,0.95,1.0,1.05,1.1,1.15,1.2],"tickCount":30,"labelOverlap":false,"labelExpr":"replace(format(datum.value, '.2f'), '.', ',')","grid":false,"domain":false,"ticks":false,"labelFontSize":9,"labelPadding":6,"title":"FC","titleFontSize":10,"titlePadding":4}},
       "color":{"datum":"FACTOR DE CRECIMIENTO (promedio últimos 7 días)"}}}
   ]}
  ],
  "resolve":{"scale":{"y":"independent"}}
  }
 ]},
 {"spacing":0,"hconcat":[
  {"data":{"name":"vacio"},"mark":"point","encoding":{},"width":1,"height":1},
  {"width":667,"height":380,
  "view":{"fill":{"gradient":"linear","x1":0,"y1":0,"x2":1,"y2":0.3,"stops":[{"offset":0,"color":"#f4f4f4"},{"offset":1,"color":"#cdcdcd"}]}},
  "title":{"text":"PROMEDIO CASOS CONFIRMADOS SEMANALES Catamarca","fontSize":18,"fontWeight":"bold","color":"#404040","offset":4,"anchor":"middle","dx":-44},
  "data":{"name":"sem"},
  "encoding":{"y":{"field":"sem","type":"nominal","sort":null,"scale":{"paddingInner":0.42,"paddingOuter":0.21},"axis":{"labelFontSize":9,"labelColor":"#595959","labelPadding":8,"ticks":false,"domain":true,"domainColor":"#333f50","domainWidth":2.5,"title":"DIAS","titleFontSize":9,"titleFontWeight":"bold","titleColor":"#404040","minExtent":103,"maxExtent":103,"titleX":-94}}},
  "layer":[
   {"mark":{"type":"bar","color":"#5f9ed9"},
    "encoding":{"x":{"field":"v","type":"quantitative","scale":{"domain":[0,500],"nice":false},"axis":{"values":[0,50,100,150,200,250,300,350,400,450,500],"tickCount":30,"labelOverlap":false,"labelExpr":"datum.value == 0 ? '-' : datum.label","grid":true,"gridColor":"#a6a6a6","domain":false,"ticks":false,"title":"CASOS CONFIRMADOS","titleFontWeight":"bold","titleFontSize":9,"titleColor":"#404040","labelFontSize":10,"labelPadding":9,"titlePadding":6,"labelFlush":false}}}},
   {"mark":{"type":"rule","color":"#404040","strokeWidth":1},
    "encoding":{"x":{"field":"lo","type":"quantitative"},"x2":{"field":"hi"}}},
   {"mark":{"type":"tick","color":"#404040","thickness":1.2,"size":6},
    "encoding":{"x":{"field":"lo","type":"quantitative"}}},
   {"mark":{"type":"tick","color":"#404040","thickness":1.2,"size":6},
    "encoding":{"x":{"field":"hi","type":"quantitative"}}},
   {"mark":{"type":"text","align":"left","dx":6,"fontWeight":"bold","fontSize":10,"color":"#000000"},
    "encoding":{"x":{"datum":0},"text":{"field":"v"}}}
  ]
  }
 ]}
]
}
